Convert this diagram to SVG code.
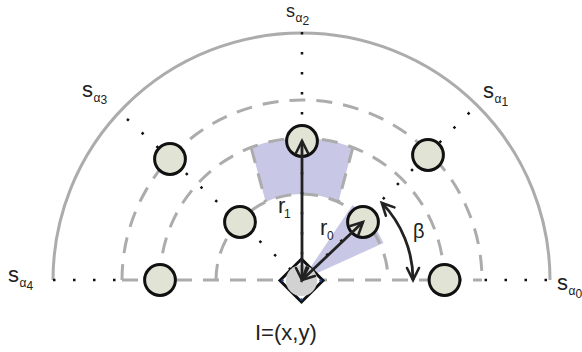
<svg xmlns="http://www.w3.org/2000/svg" width="582" height="352" viewBox="0 0 582 352">
<style>
.bg{fill:#ffffff}
.shade{fill:#c8c8e6;stroke:none}
.outer{fill:none;stroke:#acacac;stroke-width:3}
.dash{fill:none;stroke:#acacac;stroke-width:3;stroke-dasharray:16 11}
.dot{fill:none;stroke:#111;stroke-width:2.5;stroke-dasharray:2.5 17.5}
.node{fill:#e1e4d4;stroke:#111;stroke-width:3}
.arrow{fill:none;stroke:#222;stroke-width:2.8;marker-start:url(#ah);marker-end:url(#ah)}
.lbl{font-family:"Liberation Sans",Arial,sans-serif;fill:#222}
.big{font-size:22px}
.sub{font-size:12px}
</style>
<defs>
<marker id="ah" viewBox="0 0 16 16" refX="14" refY="8" markerWidth="16" markerHeight="16" markerUnits="userSpaceOnUse" orient="auto-start-reverse" overflow="visible">
<path d="M2,2 L14,8 L2,14" fill="none" stroke="#222" stroke-width="2.6" stroke-linecap="round"/>
</marker>
</defs>
<rect class="bg" x="0" y="0" width="582" height="352"/>
<g id="background">
<path class="shade" d="M251.1,147.4 A142,142 0 0 1 352.9,147.4 L338.3,202.1 A86,86 0 0 0 265.7,202.1 Z"/>
<path class="shade" d="M302,280 L383.5,243 A90,90 0 0 0 352.5,205 Z"/>
<path class="outer" d="M53,280 A248.5,247 0 0 1 550,280"/>
<path class="dash" d="M216,280 A86,86 0 0 1 388,280"/>
<path class="dash" d="M160,280 A142,142 0 0 1 444,280"/>
<path class="dash" d="M122,280 A180,180 0 0 1 482,280"/>
<path class="dash" d="M122,280 L482,280"/>
<path class="dash" d="M251.1,147.4 L265.7,202.1 M352.9,147.4 L338.3,202.1"/>
<path class="dot" d="M53,280 L121,280"/>
<path class="dot" d="M547,280 L483,280"/>
<path class="dot" d="M302,32 L302,280"/>
<path class="dot" d="M127,119 L302,280"/>
<path class="dot" d="M469.5,112.5 L302,280"/>
</g>
<g id="n_top"><circle class="node" cx="302" cy="141" r="15.4"/></g>
<g id="n_outer_left"><circle class="node" cx="170" cy="159" r="15.4"/></g>
<g id="n_outer_right"><circle class="node" cx="428" cy="155" r="15.4"/></g>
<g id="n_inner_left"><circle class="node" cx="240" cy="222" r="15.4"/></g>
<g id="n_inner_right"><circle class="node" cx="363" cy="222" r="15.4"/></g>
<g id="n_base_left"><circle class="node" cx="160" cy="280" r="15.4"/></g>
<g id="n_base_right"><circle class="node" cx="444.5" cy="280" r="15.4"/></g>
<g id="n_center">
<path d="M301.5,259 L323,280.5 L301.5,302 L280,280.5 Z" fill="#ffffff" stroke="#111" stroke-width="3" stroke-linejoin="miter"/>
<circle cx="301.5" cy="280.5" r="15.6" fill="#d2d2d2"/>
<g fill="#1f4e9a">
<circle cx="301.5" cy="261.5" r="1.2"/>
<circle cx="320.5" cy="280.5" r="1.2"/>
<circle cx="301.5" cy="299.5" r="1.2"/>
<circle cx="282.5" cy="280.5" r="1.2"/>
</g>
</g>
<g id="connectors">
<path class="arrow" d="M302,280 L302,141"/>
<path class="arrow" d="M302,280 L363,222"/>
<path class="arrow" d="M381.8,202.9 A111,111 0 0 1 413,280"/>
</g>
<g id="labels">
<text class="lbl" font-size="18" x="286" y="17">s</text><text class="lbl sub" x="295.5" y="22">α</text><text class="lbl sub" x="302.5" y="25">2</text>
<text class="lbl big" x="82" y="97">s</text><text class="lbl sub" x="93.5" y="101.5">α</text><text class="lbl sub" x="100.5" y="104">3</text>
<text class="lbl big" x="483" y="98">s</text><text class="lbl sub" x="494.5" y="103">α</text><text class="lbl sub" x="501.5" y="106">1</text>
<text class="lbl big" x="8" y="282">s</text><text class="lbl sub" x="19.5" y="287">α</text><text class="lbl sub" x="26.5" y="290">4</text>
<text class="lbl big" x="557" y="290">s</text><text class="lbl sub" x="568.5" y="295">α</text><text class="lbl sub" x="575.5" y="298">0</text>
<text class="lbl big" x="278" y="213">r</text><text class="lbl sub" x="284" y="218">1</text>
<text class="lbl big" x="320" y="235">r</text><text class="lbl sub" x="327" y="240">0</text>
<text class="lbl" x="413" y="238" font-size="20">β</text>
<text class="lbl big" x="255" y="340">I=(x,y)</text>
</g>
</svg>
